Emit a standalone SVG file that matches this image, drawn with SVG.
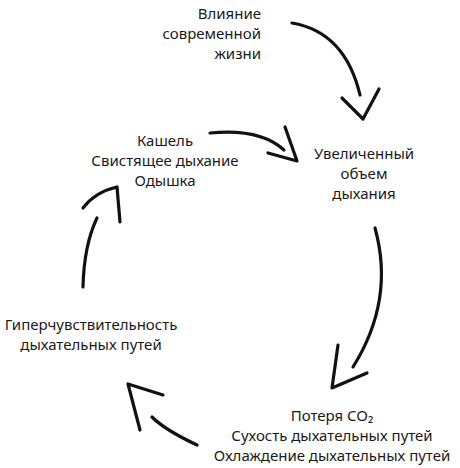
<svg xmlns="http://www.w3.org/2000/svg" width="460" height="468" viewBox="0 0 460 468">
<style>
text{font-family:"Noto Sans","Open Sans",sans-serif;font-size:15px;fill:#1a1a1a}
.c{text-anchor:middle}
.r{text-anchor:end}
.a{fill:none;stroke:#111;stroke-width:3.2;stroke-linecap:round;stroke-linejoin:round}
</style>
<rect width="460" height="468" fill="#fff"/>
<g id="n1"><text class="r" x="261" y="19">Влияние</text><text class="r" x="261" y="39">современной</text><text class="r" x="261" y="59">жизни</text></g>
<g id="n2"><text class="c" x="165" y="146">Кашель</text><text class="c" x="165" y="166">Свистящее дыхание</text><text class="c" x="165" y="186">Одышка</text></g>
<g id="n3"><text class="c" x="364" y="159">Увеличенный</text><text class="c" x="364" y="179">объем</text><text class="c" x="364" y="199">дыхания</text></g>
<g id="n4"><text class="c" x="332" y="421">Потеря CO₂</text><text class="c" x="332" y="441">Сухость дыхательных путей</text><text class="c" x="332" y="461">Охлаждение дыхательных путей</text></g>
<g id="n5"><text class="c" x="91" y="330">Гиперчувствительность</text><text class="c" x="91" y="350">дыхательных путей</text></g>
<g id="connectors">
<path class="a" d="M292,23 Q345,32 360,95"/>
<path class="a" d="M342,98 L363,119 L379,89"/>
<path class="a" d="M210,133 Q260,128 284,150"/>
<path class="a" d="M285,127 L297,161 L268,153"/>
<path class="a" d="M375,228 Q395,300 353,367"/>
<path class="a" d="M338,345 L332,388 L367,373"/>
<path class="a" d="M197,445 Q165,430 152,417"/>
<path class="a" d="M163,395 L128,384 L140,430"/>
<path class="a" d="M83,287 Q84,245 97,218"/>
<path class="a" d="M83,208 Q95,192 117,187 L120,222"/>
</g>
</svg>
